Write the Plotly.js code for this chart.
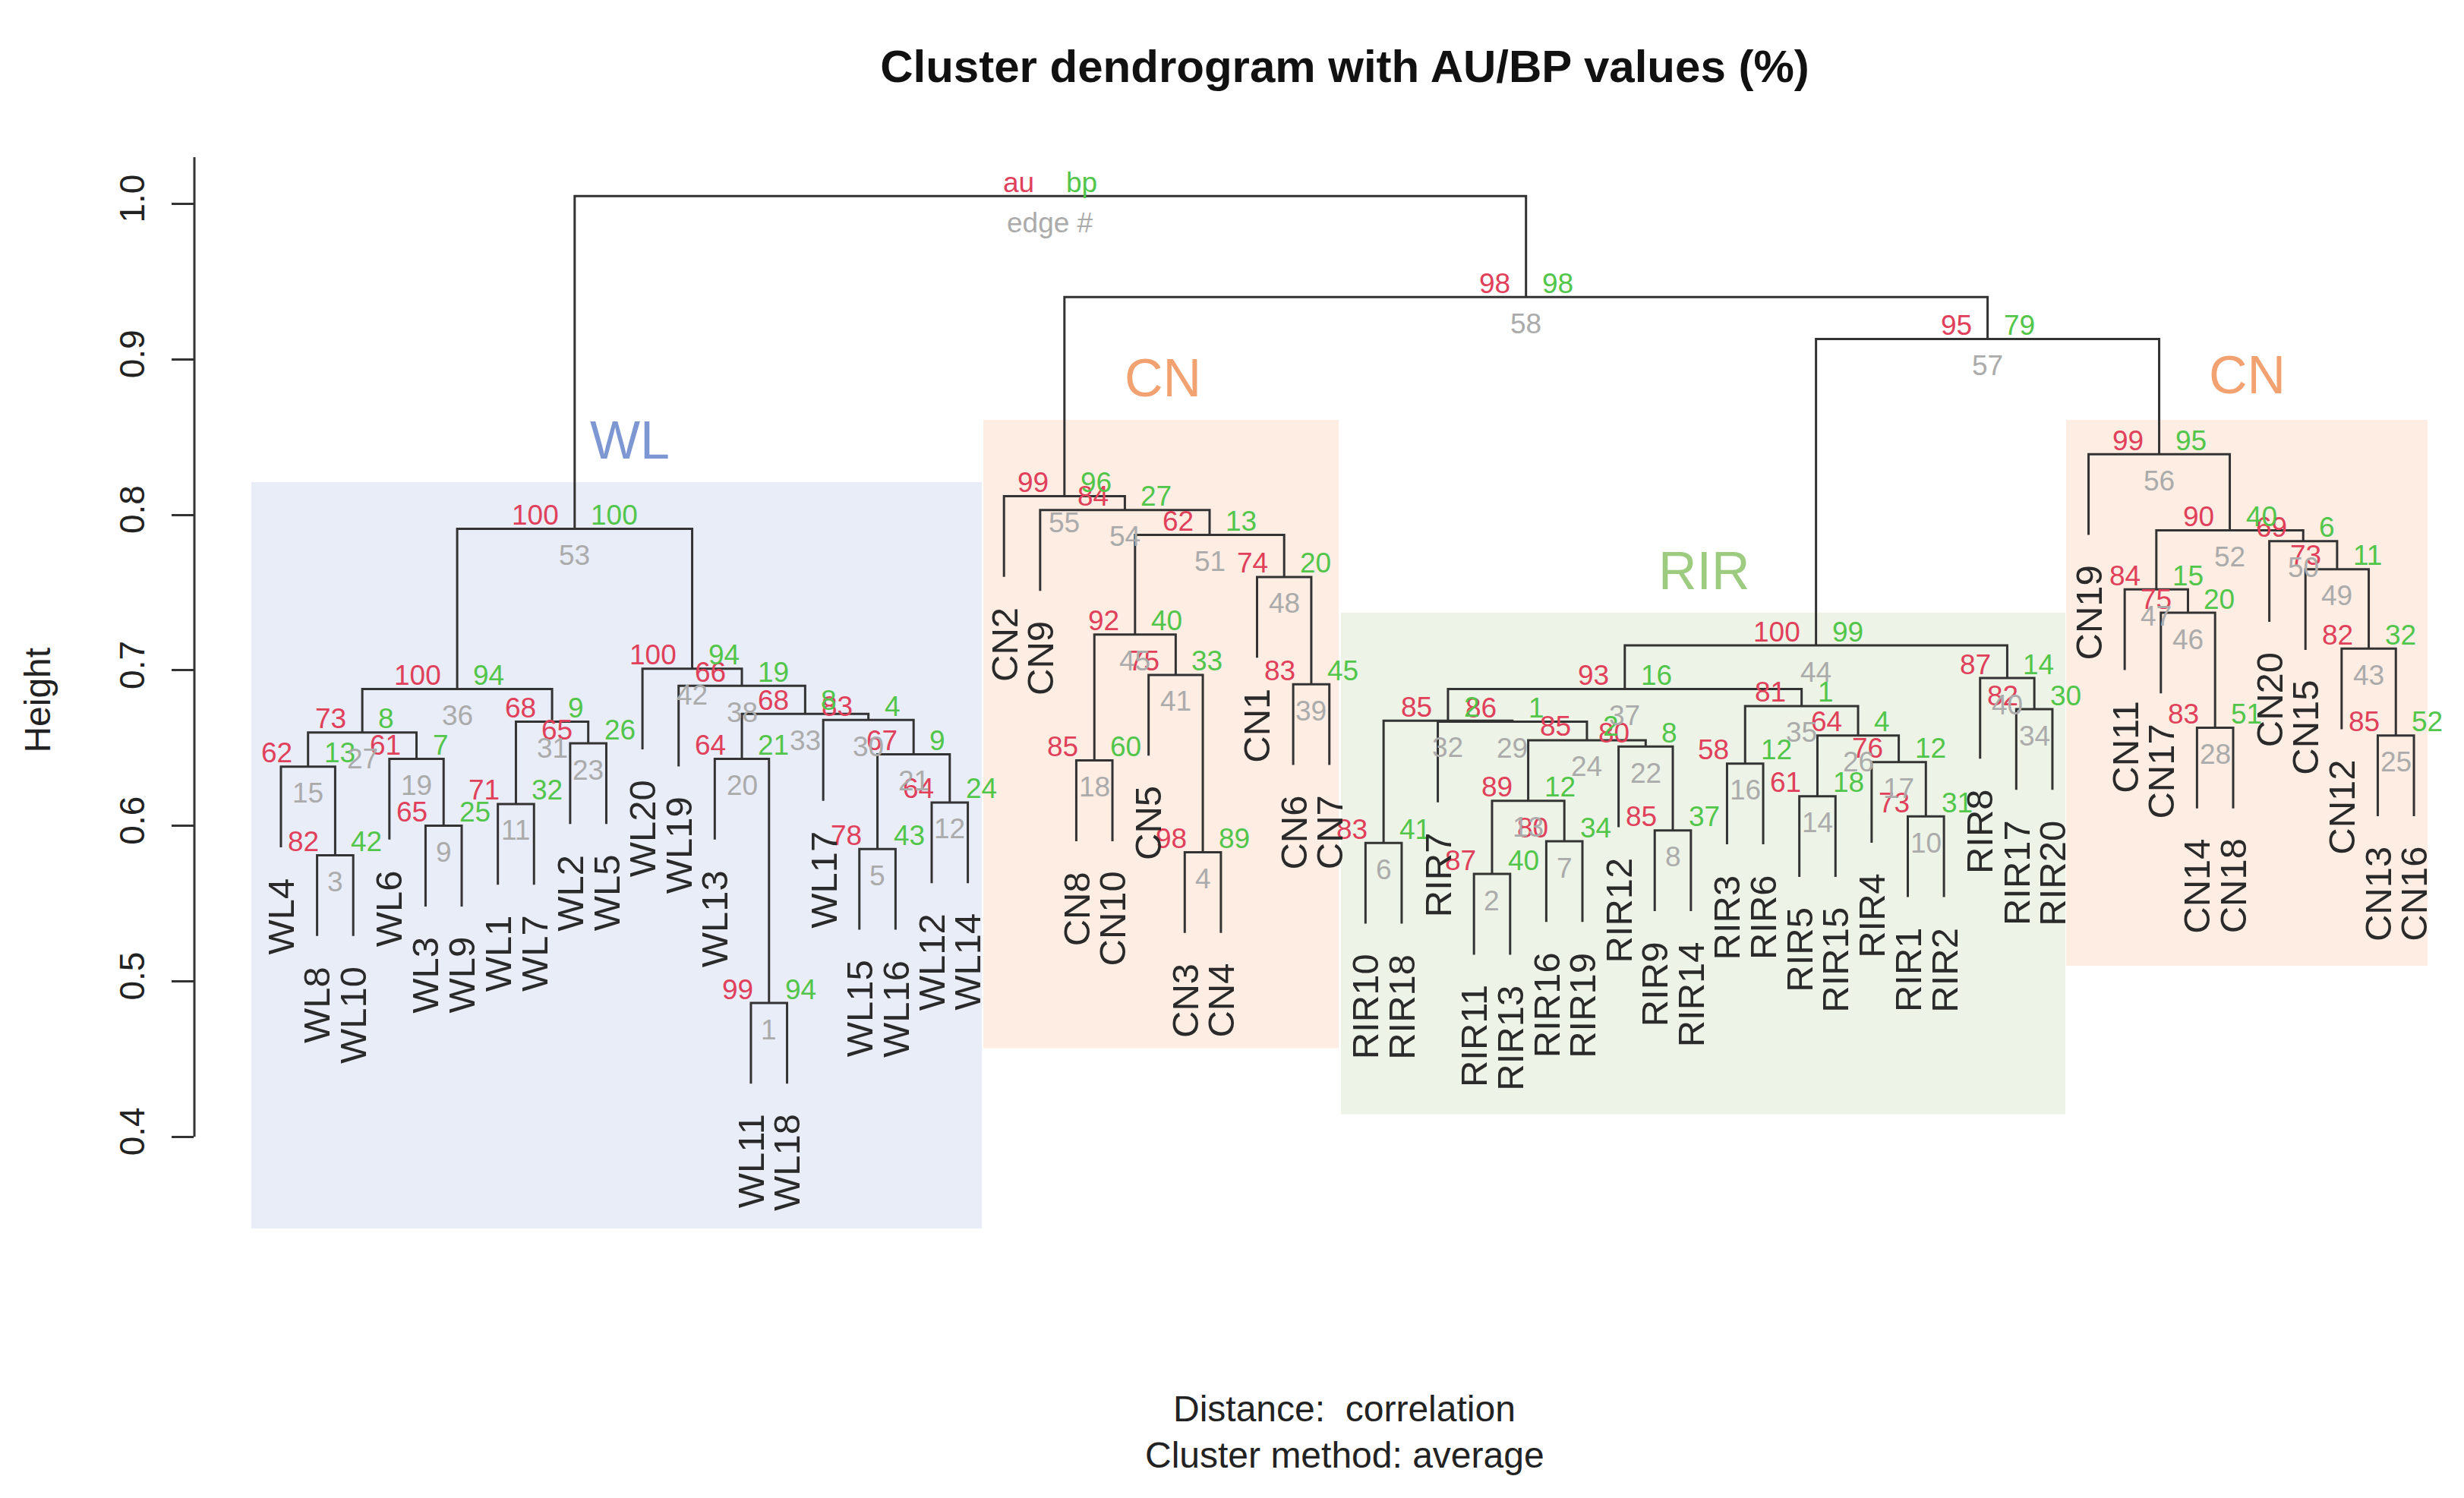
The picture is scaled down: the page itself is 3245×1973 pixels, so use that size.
<!DOCTYPE html>
<html><head><meta charset="utf-8">
<script src="https://cdn.plot.ly/plotly-3.0.1.min.js"></script>
<style>html,body{margin:0;padding:0;background:#fff}</style>
</head><body>
<div id="chart" style="width:3245px;height:1973px"></div>
<script>
// ---------- DATA ----------
const leafLabels = [
  'WL4','WL8','WL10','WL6','WL3','WL9','WL1','WL7','WL2','WL5',
  'WL20','WL19','WL13','WL11','WL18','WL17','WL15','WL16','WL12','WL14',
  'CN2','CN9','CN8','CN10','CN5','CN3','CN4','CN1','CN6','CN7',
  'RIR10','RIR18','RIR7','RIR11','RIR13','RIR16','RIR19','RIR12','RIR9','RIR14',
  'RIR3','RIR6','RIR5','RIR15','RIR4','RIR1','RIR2','RIR8','RIR17','RIR20',
  'CN19','CN11','CN17','CN14','CN18','CN20','CN15','CN12','CN13','CN16'
];
// merge k (edge k = index+1): children are leaf names (string) or earlier edge numbers
const mergeA = ['WL11','RIR11','WL8','CN3','WL15','RIR10','RIR16','RIR9','WL3','RIR1',
  'WL1','WL12',2,'RIR5','WL4','RIR3','RIR4','CN8','WL6','WL13',
  5,'RIR12','WL2',13,'CN13',14,15,'CN14','RIR7','WL17',
  11,6,20,'RIR17',16,27,32,'WL19','CN6','RIR8',
  'CN5','WL20','CN12',37,18,'CN17','CN11','CN1','CN15','CN20',
  45,47,36,'CN9','CN2','CN19',44,55,53];
const mergeB = ['WL18','RIR13','WL10','CN4','WL16','RIR18','RIR19','RIR14','WL9','RIR2',
  'WL7','WL14',7,'RIR15',3,'RIR6',10,'CN10',9,1,
  12,8,'WL5',22,'CN16',17,19,'CN18',24,21,
  23,29,30,'RIR20',26,31,35,33,'CN7',34,
  4,38,25,40,41,28,46,39,43,49,
  48,50,42,51,54,52,56,57,58];
const mergeHeight = [0.486,0.569,0.581,0.583,0.585,0.589,0.590,0.597,0.600,0.606,
  0.614,0.615,0.616,0.619,0.638,0.640,0.641,0.642,0.643,0.643,
  0.646,0.651,0.653,0.655,0.658,0.658,0.660,0.663,0.667,0.668,
  0.667,0.6675,0.672,0.675,0.677,0.688,0.688,0.690,0.691,0.695,
  0.697,0.701,0.714,0.716,0.723,0.737,0.752,0.760,0.765,0.783,
  0.787,0.790,0.791,0.803,0.812,0.839,0.913,0.940,1.005];
const auPct = [99,87,82,98,78,83,80,85,65,73,
  71,64,89,61,62,58,76,85,61,64,
  67,80,65,85,85,64,73,83,86,83,
  68,85,68,82,81,100,93,66,83,87,
  75,100,82,100,92,75,84,74,73,69,
  62,90,100,84,99,99,95,98];
const bpPct = [94,40,42,89,43,41,34,37,25,31,
  32,24,12,18,13,12,12,60,7,21,
  9,8,26,2,52,4,8,51,1,4,
  9,2,8,30,1,94,16,19,45,14,
  33,94,32,99,40,20,15,20,11,6,
  13,40,100,27,96,95,79,98];
const groupNames = ['WL','CN','RIR','CN'];
const yTicks = [0.4,0.5,0.6,0.7,0.8,0.9,1.0];
const yTickText = ['0.4','0.5','0.6','0.7','0.8','0.9','1.0'];

// ---------- BUILD ----------
const FONT = 'Liberation Sans, Arial, sans-serif';
const RED = '#E0405A', GREEN = '#52C64A', GRAY = '#ABABAB', LINE = '#333333';
const leafX = {};
leafLabels.forEach((l, i) => { leafX[l] = i + 1; });
const hang = 0.1 * (Math.max(...mergeHeight) - Math.min(...mergeHeight));
const nodeX = [];
const leafBottom = {};
const xs = [], ys = [];
for (let k = 0; k < mergeHeight.length; k++) {
  const h = mergeHeight[k];
  const kids = [mergeA[k], mergeB[k]];
  const cx = kids.map(c => typeof c === 'string' ? leafX[c] : nodeX[c - 1]);
  const cy = kids.map(c => typeof c === 'string' ? h - hang : mergeHeight[c - 1]);
  kids.forEach(c => { if (typeof c === 'string') leafBottom[c] = h - hang; });
  xs.push(cx[0], cx[0], cx[1], cx[1], null);
  ys.push(cy[0], h, h, cy[1], null);
  nodeX.push((cx[0] + cx[1]) / 2);
}

const annotations = [];
// au / bp / edge numbers
for (let k = 0; k < mergeHeight.length; k++) {
  const isRoot = k === mergeHeight.length - 1;
  const au = isRoot ? 'au' : String(auPct[k]);
  const bp = isRoot ? 'bp' : String(bpPct[k]);
  const ed = isRoot ? 'edge #' : String(k + 1);
  annotations.push({x: nodeX[k], y: mergeHeight[k], xref: 'x', yref: 'y', text: au, showarrow: false,
    xanchor: 'right', yanchor: 'middle', xshift: -19, yshift: 18, font: {family: FONT, size: 37, color: RED}});
  annotations.push({x: nodeX[k], y: mergeHeight[k], xref: 'x', yref: 'y', text: bp, showarrow: false,
    xanchor: 'left', yanchor: 'middle', xshift: 19, yshift: 18, font: {family: FONT, size: 37, color: GREEN}});
  annotations.push({x: nodeX[k], y: mergeHeight[k], xref: 'x', yref: 'y', text: ed, showarrow: false,
    xanchor: 'center', yanchor: 'middle', yshift: -35, font: {family: FONT, size: 37, color: GRAY}});
}
// leaf labels
leafLabels.forEach(l => {
  annotations.push({x: leafX[l], y: leafBottom[l], xref: 'x', yref: 'y', text: l, showarrow: false,
    textangle: -90, xanchor: 'center', yanchor: 'top', yshift: -38, font: {family: FONT, size: 49, color: '#2a2a2a'}});
});
// group boxes and names
const boxes = [
  {x0: 0.18, x1: 20.39, y0: 0.341, y1: 0.821, fill: '#E9EDF8', lx: 10.66, ly: 0.848, col: '#7D97D3'},
  {x0: 20.43, x1: 30.26, y0: 0.457, y1: 0.861, fill: '#FDEDE3', lx: 25.39, ly: 0.888, col: '#F2A170'},
  {x0: 30.32, x1: 50.36, y0: 0.4145, y1: 0.737, fill: '#EDF4E7', lx: 40.38, ly: 0.764, col: '#9DCB80'},
  {x0: 50.38, x1: 60.38, y0: 0.510, y1: 0.861, fill: '#FDEDE3', lx: 55.38, ly: 0.890, col: '#F2A170'}
];
const shapes = boxes.map(b => ({type: 'rect', xref: 'x', yref: 'y', x0: b.x0, x1: b.x1, y0: b.y0, y1: b.y1,
  fillcolor: b.fill, line: {width: 0}, layer: 'below'}));
boxes.forEach((b, i) => {
  annotations.push({x: b.lx, y: b.ly, xref: 'x', yref: 'y', text: groupNames[i], showarrow: false,
    xanchor: 'center', yanchor: 'middle', font: {family: FONT, size: 70, color: b.col}});
});
// axis line
shapes.push({type: 'line', xref: 'paper', yref: 'y', x0: 0, x1: 0, y0: 0.4, y1: 1.03, line: {color: LINE, width: 3}});
// Height label & subtitles
annotations.push({x: -0.0693, y: 0.681, xref: 'paper', yref: 'y', text: 'Height', showarrow: false,
  textangle: -90, xanchor: 'center', yanchor: 'middle', font: {family: FONT, size: 48, color: '#222'}});
annotations.push({x: 0.5094, y: -0.1006, xref: 'paper', yref: 'paper', text: 'Distance:\u00a0 correlation', showarrow: false,
  xanchor: 'center', yanchor: 'middle', font: {family: FONT, size: 48, color: '#222'}});
annotations.push({x: 0.5094, y: -0.1394, xref: 'paper', yref: 'paper', text: 'Cluster method: average', showarrow: false,
  xanchor: 'center', yanchor: 'middle', font: {family: FONT, size: 48, color: '#222'}});

const trace = {x: xs, y: ys, type: 'scatter', mode: 'lines', line: {color: LINE, width: 3}, hoverinfo: 'skip', showlegend: false};

const layout = {
  width: 3245, height: 1973,
  margin: {l: 256, r: 15, t: 150, b: 273},
  paper_bgcolor: '#ffffff', plot_bgcolor: 'rgba(0,0,0,0)',
  showlegend: false,
  title: {text: '<b>Cluster dendrogram with AU/BP values (%)</b>', x: 0.5094, xref: 'paper', xanchor: 'center',
    y: 1 - 87 / 1973, yref: 'container', yanchor: 'middle', font: {family: FONT, size: 60, color: '#111'}},
  xaxis: {range: [-1.394, 61.07], visible: false, fixedrange: true},
  yaxis: {range: [0.30098, 1.05781], tickvals: yTicks, ticktext: yTickText, ticks: 'outside', ticklen: 29,
    tickwidth: 3, tickcolor: LINE, showline: false, showgrid: false, zeroline: false, tickangle: -90,
    ticklabelstandoff: 18, tickfont: {family: FONT, size: 46, color: '#222'}},
  shapes: shapes,
  annotations: annotations
};
Plotly.newPlot('chart', [trace], layout, {staticPlot: true});
</script>
</body></html>
